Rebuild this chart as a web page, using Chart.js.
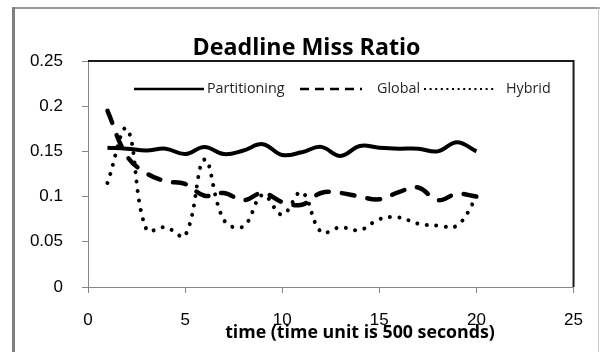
<!DOCTYPE html>
<html>
<head>
<meta charset="utf-8">
<script src="https://cdn.jsdelivr.net/npm/chart.js@4"></script>
<style>
  html, body { margin: 0; padding: 0; background: #ffffff; }
  #wrap { width: 600px; height: 352px; position: relative; }
</style>
</head>
<body>
<div id="wrap"><canvas id="c" width="600" height="352"></canvas></div>
<script>
// ---- data ----
const xValues = [1, 2, 3, 4, 5, 6, 7, 8, 9, 10, 11, 12, 13, 14, 15, 16, 17, 18, 19, 20];
const partitioning = [0.154, 0.153, 0.151, 0.153, 0.147, 0.155, 0.147, 0.151, 0.158, 0.146,
                      0.149, 0.155, 0.145, 0.156, 0.154, 0.153, 0.153, 0.150, 0.160, 0.150];
const globalSeries = [0.195, 0.145, 0.126, 0.117, 0.114, 0.101, 0.104, 0.096, 0.104, 0.094,
                      0.091, 0.104, 0.104, 0.100, 0.097, 0.105, 0.110, 0.096, 0.103, 0.100];
const hybrid       = [0.115, 0.175, 0.064, 0.066, 0.057, 0.141, 0.074, 0.067, 0.102, 0.080,
                      0.105, 0.061, 0.066, 0.063, 0.075, 0.077, 0.070, 0.068, 0.068, 0.099];
const seriesNames = ['Partitioning', 'Global', 'Hybrid'];
const yTickLabels = ['0', '0.05', '0.1', '0.15', '0.2', '0.25'];
const xTickLabels = ['0', '5', '10', '15', '20', '25'];
const chartTitle = 'Deadline Miss Ratio';
const xAxisTitle = 'time (time unit is 500 seconds)';

const toPoints = arr => arr.map((v, i) => ({ x: xValues[i], y: v }));

const AXIS_GREY = '#868686';
const TICK_FONT = { family: "'Liberation Sans', Arial, sans-serif", size: 17 };
const LABEL_FONT = "'Open Sans', 'DejaVu Sans', sans-serif";

// font size that makes a text span a given width
function fitSize(ctx, text, weight, width, base) {
  ctx.font = weight + ' ' + base + 'px ' + LABEL_FONT;
  const w = ctx.measureText(text).width;
  return Math.max(8, Math.min(base * 1.5, base * width / w));
}

const decor = {
  id: 'decor',
  beforeDraw(chart) {
    const ctx = chart.ctx;
    ctx.save();
    ctx.fillStyle = '#ffffff';
    ctx.fillRect(0, 0, chart.width, chart.height);
    // outer chart frame
    ctx.fillStyle = '#9a9a9a';
    ctx.fillRect(12, 7, 588, 2);
    ctx.fillStyle = '#7f7f7f';
    ctx.fillRect(12, 7, 3, 345);
    ctx.fillStyle = '#c8c8c8';
    ctx.fillRect(598, 7, 1, 345);
    ctx.restore();
  },
  afterDraw(chart) {
    const ctx = chart.ctx;
    const a = chart.chartArea;
    ctx.save();
    // plot area top/right border
    ctx.strokeStyle = '#1a1a1a';
    ctx.lineWidth = 2;
    ctx.beginPath();
    ctx.moveTo(a.left, a.top);
    ctx.lineTo(a.right, a.top);
    ctx.lineTo(a.right, a.bottom);
    ctx.stroke();

    // title
    ctx.fillStyle = '#000000';
    ctx.textAlign = 'center';
    ctx.textBaseline = 'alphabetic';
    let s = fitSize(ctx, chartTitle, 'bold', 228, 21);
    ctx.font = 'bold ' + s + 'px ' + LABEL_FONT;
    ctx.fillText(chartTitle, 306.5, 55);

    // x axis title
    s = fitSize(ctx, xAxisTitle, 'bold', 270, 17);
    ctx.font = 'bold ' + s + 'px ' + LABEL_FONT;
    ctx.fillText(xAxisTitle, 360, 338);

    // legend
    const ly = 89;
    const items = [
      { x0: 134, x1: 204, tx: 207, tw: 79, dash: [], lw: 2.5 },
      { x0: 300, x1: 362, tx: 377, tw: 41, dash: [9, 6], lw: 2.5 },
      { x0: 424, x1: 496, tx: 506, tw: 46, dash: [2, 3.6], lw: 2 }
    ];
    let ls = 0;
    items.forEach((it, i) => { ls += fitSize(ctx, seriesNames[i], 'normal', it.tw, 13); });
    ls = ls / items.length;
    items.forEach((it, i) => {
      ctx.strokeStyle = '#000000';
      ctx.lineWidth = it.lw;
      ctx.lineCap = 'butt';
      ctx.setLineDash(it.dash);
      ctx.beginPath();
      ctx.moveTo(it.x0, ly);
      ctx.lineTo(it.x1, ly);
      ctx.stroke();
      ctx.setLineDash([]);
      ctx.fillStyle = '#262626';
      ctx.font = ls + 'px ' + LABEL_FONT;
      ctx.textAlign = 'left';
      ctx.textBaseline = 'middle';
      ctx.fillText(seriesNames[i], it.tx, ly);
    });
    ctx.restore();
  }
};

new Chart(document.getElementById('c'), {
  type: 'line',
  data: {
    datasets: [
      {
        label: seriesNames[0],
        data: toPoints(partitioning),
        borderColor: '#000000',
        borderWidth: 4,
        tension: 0.4,
        pointRadius: 0,
        fill: false
      },
      {
        label: seriesNames[1],
        data: toPoints(globalSeries),
        borderColor: '#000000',
        borderWidth: 4.5,
        borderDash: [13, 13],
        borderCapStyle: 'round',
        tension: 0.4,
        pointRadius: 0,
        fill: false
      },
      {
        label: seriesNames[2],
        data: toPoints(hybrid),
        borderColor: '#000000',
        borderWidth: 4,
        borderDash: [0.01, 9.5],
        borderCapStyle: 'round',
        tension: 0.4,
        pointRadius: 0,
        fill: false
      }
    ]
  },
  options: {
    responsive: false,
    devicePixelRatio: 1,
    animation: false,
    layout: { padding: { left: 0, top: 61, right: 26, bottom: 0 } },
    plugins: {
      legend: { display: false },
      title: { display: false },
      tooltip: { enabled: false }
    },
    scales: {
      x: {
        type: 'linear',
        min: 0,
        max: 25,
        afterFit(s) { s.height = 65; },
        ticks: {
          stepSize: 5,
          color: '#000000',
          font: TICK_FONT,
          padding: 17,
          maxRotation: 0,
          callback: (v, i) => xTickLabels[i]
        },
        grid: { drawOnChartArea: false, drawTicks: true, tickLength: 6, color: AXIS_GREY },
        border: { display: true, color: AXIS_GREY, width: 1 }
      },
      y: {
        min: 0,
        max: 0.25,
        afterFit(s) { s.width = 88; },
        ticks: {
          stepSize: 0.05,
          color: '#000000',
          font: TICK_FONT,
          padding: 19,
          callback: (v, i) => yTickLabels[i]
        },
        grid: { drawOnChartArea: false, drawTicks: true, tickLength: 6, color: AXIS_GREY },
        border: { display: true, color: AXIS_GREY, width: 1 }
      }
    }
  },
  plugins: [decor]
});
</script>
</body>
</html>
